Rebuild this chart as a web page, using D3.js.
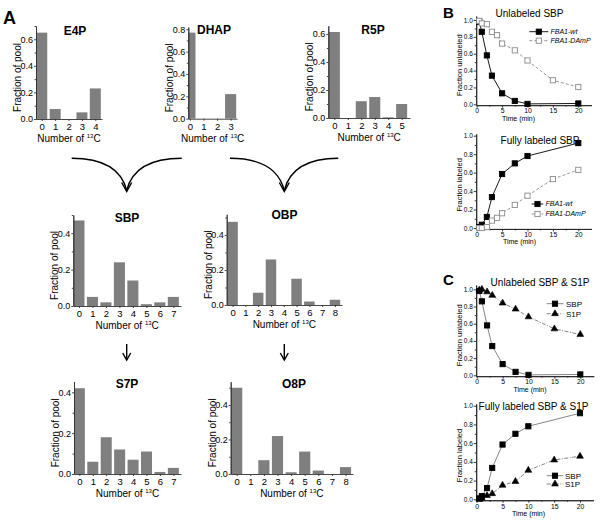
<!DOCTYPE html>
<html><head><meta charset="utf-8">
<script src="https://cdn.jsdelivr.net/npm/d3@7"></script>
<style>
body{margin:0;background:#fff}
svg{display:block}
text{font-family:"Liberation Sans",Arial,sans-serif;fill:#000}
</style>
</head><body>
<svg id="chart" width="600" height="521"></svg>
<script>
// ---------------- data ----------------
const e4pCarbons = [0,1,2,3,4];
const e4pFractions = [0.65,0.075,0,0.05,0.23];
const dhapCarbons = [0,1,2,3];
const dhapFractions = [0.77,0,0,0.22];
const r5pCarbons = [0,1,2,3,4,5];
const r5pFractions = [0.615,0,0.12,0.15,0.005,0.10];
const sbpCarbons = [0,1,2,3,4,5,6,7];
const sbpFractions = [0.47,0.05,0.02,0.24,0.14,0.01,0.02,0.05];
const obpCarbons = [0,1,2,3,4,5,6,7,8];
const obpFractions = [0.475,0,0.07,0.26,0,0.15,0.02,0,0.03];
const s7pCarbons = [0,1,2,3,4,5,6,7];
const s7pFractions = [0.42,0.06,0.18,0.12,0.07,0.11,0.01,0.03];
const o8pCarbons = [0,1,2,3,4,5,6,7,8];
const o8pFractions = [0.5,0,0.08,0.22,0.01,0.13,0.02,0,0.04];

const timeWt = [0.5,1,2,3,5,7.5,10,20];
const unlabeledWt = [0.98,0.86,0.58,0.34,0.13,0.04,0.005,0.01];
const labeledWt = [0.01,0.035,0.12,0.335,0.585,0.70,0.78,0.92];
const timeDamp = [0.5,1,2,3,4,5,7.5,10,15,20];
const unlabeledDamp = [0.99,0.96,0.95,0.86,0.82,0.72,0.64,0.52,0.285,0.205];
const labeledDamp = [0,0,0.01,0.08,0.11,0.16,0.25,0.35,0.53,0.63];
const timeS1P = [0.5,1,2,3,5,7.5,10,15,20];
const unlabeledS1P = [0.99,1.0,0.97,0.93,0.84,0.77,0.68,0.54,0.475];
const labeledS1P = [0,0.01,0.04,0.06,0.15,0.19,0.31,0.42,0.46];

const timeTicks = [0,5,10,15,20];
const timeMinor = [2.5,7.5,12.5,17.5];
const fracTicks = [0,0.2,0.4,0.6,0.8,1.0];
const fracMinor = [0.1,0.3,0.5,0.7,0.9];

// ---------------- drawing ----------------
const svg = d3.select("#chart");
svg.append("rect").attr("width",600).attr("height",521).attr("fill","#fff");

const f1 = d3.format(".1f");
let clipId = 0;

function styleAxis(g, size, color){
  g.attr("font-family",null).attr("font-size",null);
  g.selectAll("text").attr("font-size",size).style("font-family",'"Liberation Sans",Arial,sans-serif').attr("fill","#000");
  g.selectAll("path,line").attr("stroke",color).attr("stroke-width",0.9);
}

function drawHist(cfg){
  const g = svg.append("g");
  const x = d3.scaleLinear().domain(cfg.xd).range([cfg.left,cfg.right]);
  const y = d3.scaleLinear().domain([0,cfg.ymax]).range([cfg.base,cfg.top]);
  const id = "clip"+(clipId++);
  g.append("clipPath").attr("id",id).append("rect")
    .attr("x",cfg.left).attr("y",cfg.top).attr("width",cfg.right-cfg.left).attr("height",cfg.base-cfg.top);
  const bw = x(0.82)-x(0);
  g.append("g").attr("clip-path","url(#"+id+")")
    .selectAll("rect").data(cfg.bins.map((b,i)=>({b,v:cfg.vals[i]})).filter(d=>d.v>0))
    .join("rect")
    .attr("x",d=>x(d.b)-bw/2).attr("width",bw)
    .attr("y",d=>y(d.v)).attr("height",d=>cfg.base-y(d.v))
    .attr("fill","#7f7f7f");
  const step = cfg.yt[1]-cfg.yt[0];
  const minor = cfg.yt.map(v=>v+step/2).filter(v=>v<=cfg.ymax);
  const ym = g.append("g").attr("transform",`translate(${cfg.left},0)`)
    .call(d3.axisLeft(y).tickValues(minor).tickSize(1.5).tickSizeOuter(0).tickFormat(""));
  styleAxis(ym,9,"#333");
  const ya = g.append("g").attr("transform",`translate(${cfg.left},0)`)
    .call(d3.axisLeft(y).tickValues(cfg.yt).tickSize(2).tickPadding(1).tickSizeOuter(0).tickFormat(f1));
  styleAxis(ya,9,"#333");
  const xa = g.append("g").attr("transform",`translate(0,${cfg.base})`)
    .call(d3.axisBottom(x).tickValues(cfg.bins).tickSize(2).tickPadding(2.5).tickSizeOuter(0).tickFormat(d3.format("d")));
  styleAxis(xa,9.5,"#333");
  g.append("text").attr("x",cfg.tx).attr("y",cfg.ty).attr("text-anchor","middle")
    .attr("font-size",12).attr("font-weight","bold").text(cfg.name);
  const xl = g.append("text").attr("x",(cfg.left+cfg.right)/2).attr("y",cfg.base+23)
    .attr("text-anchor","middle").attr("font-size",10);
  xl.append("tspan").text("Number of ");
  xl.append("tspan").attr("font-size",6).attr("dy",-4).text("13");
  xl.append("tspan").attr("dy",4).text("C");
  g.append("text").attr("transform",`translate(${cfg.left-18.5},${(cfg.top+cfg.base)/2+5}) rotate(-90)`)
    .attr("text-anchor","middle").attr("dy","0.35em").attr("font-size",10).text("Fraction of pool");
}

const hists = [
  {name:"E4P", bins:e4pCarbons, vals:e4pFractions, left:36, right:102, base:119, top:26, xd:[-0.43,4.5], ymax:0.7, yt:[0,0.2,0.4,0.6], tx:75, ty:35},
  {name:"DHAP", bins:dhapCarbons, vals:dhapFractions, left:188.3, right:237, base:118.7, top:27, xd:[-0.12,3.47], ymax:0.82, yt:[0,0.2,0.4,0.6,0.8], tx:214, ty:33.5},
  {name:"R5P", bins:r5pCarbons, vals:r5pFractions, left:328.3, right:410, base:118, top:25.7, xd:[-0.45,5.62], ymax:0.66, yt:[0,0.2,0.4,0.6], tx:373, ty:33.5},
  {name:"SBP", bins:sbpCarbons, vals:sbpFractions, left:73.3, right:181, base:306, top:215, xd:[-0.42,7.57], ymax:0.5, yt:[0,0.2,0.4], tx:127, ty:221.5},
  {name:"OBP", bins:obpCarbons, vals:obpFractions, left:226.7, right:342, base:305, top:214.3, xd:[-0.46,8.55], ymax:0.518, yt:[0,0.2,0.4], tx:284.5, ty:219},
  {name:"S7P", bins:s7pCarbons, vals:s7pFractions, left:74, right:181, base:474, top:381.7, xd:[-0.4,7.57], ymax:0.452, yt:[0,0.2,0.4], tx:127, ty:387.5},
  {name:"O8P", bins:o8pCarbons, vals:o8pFractions, left:230.7, right:353, base:474, top:381.7, xd:[-0.44,8.55], ymax:0.535, yt:[0,0.2,0.4], tx:294, ty:387.5}
];
hists.forEach(drawHist);

// arrows
const arrows = svg.append("g").attr("fill","none").attr("stroke","#000").attr("stroke-width",1.4);
function curveArrow(xl, xr, xc, yStart, yTip){
  arrows.append("path").attr("d",`M${xl},${yStart} Q${xc-8},${yStart} ${xc},${yTip-1}`);
  arrows.append("path").attr("d",`M${xr},${yStart} Q${xc+8},${yStart} ${xc},${yTip-1}`);
  arrows.append("path").attr("d",`M${xc-5},${yTip-9} L${xc},${yTip} L${xc+5},${yTip-9}`);
}
curveArrow(71.7,181.7,126.7,158.3,191.5);
curveArrow(230,338.3,284.3,158.3,191.5);
function downArrow(xc,y1,y2){
  arrows.append("path").attr("d",`M${xc},${y1} L${xc},${y2}`);
  arrows.append("path").attr("d",`M${xc-4},${y2-7} L${xc},${y2} L${xc+4},${y2-7}`);
}
downArrow(126.7,344,360);
downArrow(284.3,344,360);

// panel letters
svg.append("text").attr("x",3).attr("y",23.5).attr("font-size",18).attr("font-weight","bold").text("A");
svg.append("text").attr("x",443).attr("y",17.5).attr("font-size",15).attr("font-weight","bold").text("B");
svg.append("text").attr("x",443).attr("y",285).attr("font-size",15).attr("font-weight","bold").text("C");

function drawMarker(g, type, cx, cy, fill, stroke){
  if(type==="square"){
    g.append("rect").attr("x",cx-2.6).attr("y",cy-2.6).attr("width",5.2).attr("height",5.2)
      .attr("fill",fill).attr("stroke",stroke).attr("stroke-width",0.9);
  } else {
    g.append("path").attr("transform",`translate(${cx},${cy})`)
      .attr("d",d3.symbol(d3.symbolTriangle).size(20)()).attr("fill",fill).attr("stroke",stroke).attr("stroke-width",0.6);
  }
}

function drawLine(cfg){
  const g = svg.append("g");
  const ppm = (cfg.x20-cfg.x0)/20;
  const x = d3.scaleLinear().domain([-0.1,22.6]).range([cfg.x0-0.1*ppm, cfg.x0+22.6*ppm]);
  const s0 = d3.scaleLinear().domain([0,1]).range([cfg.y0,cfg.y1]);
  const y = d3.scaleLinear().domain([-0.01,cfg.yhi]).range([s0(-0.01),s0(cfg.yhi)]);
  const yBase = s0(-0.01);
  const xm = g.append("g").attr("transform",`translate(0,${yBase})`)
    .call(d3.axisBottom(x).tickValues(timeMinor).tickSize(1.5).tickSizeOuter(0).tickFormat(""));
  styleAxis(xm,6.5,"#222");
  const xa = g.append("g").attr("transform",`translate(0,${yBase})`)
    .call(d3.axisBottom(x).tickValues(timeTicks).tickSize(2.5).tickPadding(1).tickSizeOuter(0).tickFormat(d3.format("d")));
  styleAxis(xa,6.8,"#222");
  const ym = g.append("g").attr("transform",`translate(${x(-0.1)},0)`)
    .call(d3.axisLeft(y).tickValues(fracMinor).tickSize(1.5).tickSizeOuter(0).tickFormat(""));
  styleAxis(ym,6.5,"#222");
  const ya = g.append("g").attr("transform",`translate(${x(-0.1)},0)`)
    .call(d3.axisLeft(y).tickValues(fracTicks).tickSize(2.5).tickPadding(0.8).tickSizeOuter(0).tickFormat(f1));
  styleAxis(ya,6.5,"#222");
  g.append("text").attr("x",cfg.tx).attr("y",cfg.ty).attr("text-anchor","middle").attr("font-size",10).text(cfg.title);
  g.append("text").attr("x",cfg.xlx).attr("y",yBase+15.5).attr("text-anchor","middle").attr("font-size",7).text("Time (min)");
  g.append("text").attr("transform",`translate(${x(-0.1)-16.5},${(cfg.y0+cfg.y1)/2+3}) rotate(-90)`)
    .attr("text-anchor","middle").attr("dy","0.35em").attr("font-size",7.5).text(cfg.ylabel);
  cfg.series.forEach((s,i)=>{
    const pts = s.t.map((t,j)=>[x(t),y(s.v[j])]);
    g.append("path").attr("d",d3.line()(pts)).attr("fill","none").attr("stroke",s.line)
      .attr("stroke-width",0.9).attr("stroke-dasharray",s.dash||null);
    pts.forEach(p=>drawMarker(g,s.marker,p[0],p[1],s.fill,s.stroke));
    const ly = cfg.leg.ys[i];
    g.append("line").attr("x1",cfg.leg.x1).attr("x2",cfg.leg.x2).attr("y1",ly).attr("y2",ly)
      .attr("stroke",s.line).attr("stroke-width",0.9).attr("stroke-dasharray",s.dash||null);
    drawMarker(g,s.marker,(cfg.leg.x1+cfg.leg.x2)/2,ly,s.fill,s.stroke);
    g.append("text").attr("x",cfg.leg.xt).attr("y",ly).attr("dy","0.35em").attr("font-size",cfg.leg.fs)
      .attr("font-style",cfg.leg.italic?"italic":null).text(s.name);
  });
}

const wtStyle = {marker:"square", fill:"#000", stroke:"#000", line:"#000"};
const dampStyle = {marker:"square", fill:"#fff", stroke:"#8a8a8a", line:"#8a8a8a", dash:"3,2"};
const sbpStyle = {marker:"square", fill:"#000", stroke:"#000", line:"#777"};
const s1pStyle = {marker:"triangle", fill:"#000", stroke:"#000", line:"#777", dash:"4,1.5,1,1.5"};

drawLine({title:"Unlabeled SBP", tx:529.5, ty:17, ylabel:"Fraction unlabeled", xlx:518.5,
  x0:476.7, x20:578.3, y0:104.3, y1:20, yhi:1.047,
  series:[Object.assign({name:"FBA1-wt", t:timeWt, v:unlabeledWt},wtStyle),
          Object.assign({name:"FBA1-DAmP", t:timeDamp, v:unlabeledDamp},dampStyle)],
  leg:{x1:529.3,x2:548.3,xt:550.5,ys:[31.7,40.7],fs:7,italic:true}});
drawLine({title:"Fully labeled SBP", tx:540, ty:144.3, ylabel:"Fraction labeled", xlx:519.5,
  x0:476.7, x20:578.3, y0:228, y1:135.7, yhi:1.02,
  series:[Object.assign({name:"FBA1-wt", t:timeWt, v:labeledWt},wtStyle),
          Object.assign({name:"FBA1-DAmP", t:timeDamp, v:labeledDamp},dampStyle)],
  leg:{x1:531.7,x2:543.3,xt:545.5,ys:[204,214],fs:7,italic:true}});
drawLine({title:"Unlabeled SBP & S1P", tx:540, ty:286.3, ylabel:"Fraction unlabeled", xlx:530,
  x0:476.7, x20:580.3, y0:375.3, y1:289.3, yhi:1.05,
  series:[Object.assign({name:"SBP", t:timeWt, v:unlabeledWt},sbpStyle),
          Object.assign({name:"S1P", t:timeS1P, v:unlabeledS1P},s1pStyle)],
  leg:{x1:546.7,x2:563.3,xt:566,ys:[303.7,313.7],fs:8,italic:false}});
drawLine({title:"Fully labeled SBP & S1P", tx:533.5, ty:409.6, ylabel:"Fraction labeled", xlx:528.5,
  x0:476.7, x20:580, y0:499.3, y1:405.7, yhi:1.02,
  series:[Object.assign({name:"SBP", t:timeWt, v:labeledWt},sbpStyle),
          Object.assign({name:"S1P", t:timeS1P, v:labeledS1P},s1pStyle)],
  leg:{x1:546.7,x2:563.3,xt:565,ys:[475.7,484],fs:8,italic:false}});
</script>
</body></html>
